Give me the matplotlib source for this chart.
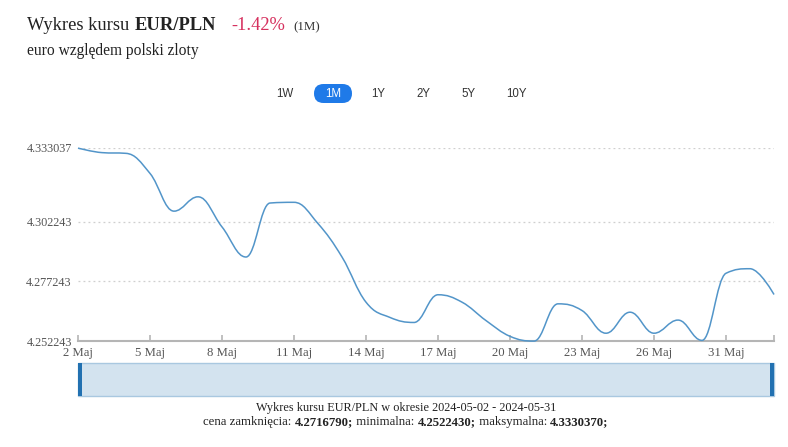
import matplotlib
matplotlib.use("Agg")
import matplotlib.pyplot as plt
from matplotlib.path import Path
from matplotlib.patches import PathPatch, Rectangle, FancyBboxPatch
from matplotlib.transforms import IdentityTransform

# ---------------- data ----------------
x_labels = ["2 Maj", "5 Maj", "8 Maj", "11 Maj", "14 Maj", "17 Maj",
            "20 Maj", "23 Maj", "26 Maj", "31 Maj"]
rates = [4.3330, 4.3311, 4.3308, 4.3224, 4.3066, 4.3126, 4.3000, 4.2874,
         4.3100, 4.3103, 4.3014, 4.2874, 4.2685, 4.2621, 4.2600, 4.2716,
         4.2685, 4.2608, 4.2542, 4.2522, 4.2678, 4.2650, 4.2555, 4.2643,
         4.2555, 4.2610, 4.2525, 4.2806, 4.2825, 4.2717]
y_ticks = [4.252243, 4.277243, 4.302243, 4.333037]
y_tick_labels = ["4.252243", "4.277243", "4.302243", "4.333037"]
buttons = ["1W", "1M", "1Y", "2Y", "5Y", "10Y"]
footer_line1 = "Wykres kursu EUR/PLN w okresie 2024-05-02 - 2024-05-31"
footer_parts = [("cena zamknięcia: ", "normal"), ("4.2716790;", "bold"),
                (" minimalna: ", "normal"), ("4.2522430;", "bold"),
                (" maksymalna: ", "normal"), ("4.3330370;", "bold")]

W, H = 788, 447
fig = plt.figure(figsize=(W / 100, H / 100), dpi=100)
renderer = fig.canvas.get_renderer()
SERIF = "Liberation Serif"
SANS = "Liberation Sans"


def fx(px):
    return px / W


def fy(py):
    return 1 - py / H


def text_width_px(t):
    return t.get_window_extent(renderer=renderer).width


# ---------------- main axes ----------------
ax_l, ax_r, ax_t, ax_b = 78, 774, 148, 341
ax = fig.add_axes([fx(ax_l), fy(ax_b), (ax_r - ax_l) / W, (ax_b - ax_t) / H])
n = len(rates)
xs = list(range(n))
ax.set_xlim(0, n - 1)
ax.set_ylim(y_ticks[0], y_ticks[-1])


# Highcharts-style spline path built from data points
def spline_path(x, y, smoothing=1.5):
    denom = smoothing + 1
    m = len(x)
    lc = [None] * m
    rc = [None] * m
    for i in range(1, m - 1):
        px, py = x[i], y[i]
        lx, ly = x[i - 1], y[i - 1]
        nx, ny = x[i + 1], y[i + 1]
        lcx = (smoothing * px + lx) / denom
        lcy = (smoothing * py + ly) / denom
        rcx = (smoothing * px + nx) / denom
        rcy = (smoothing * py + ny) / denom
        if rcx != lcx:
            corr = ((rcy - lcy) * (rcx - px)) / (rcx - lcx) + py - rcy
            lcy += corr
            rcy += corr
        if lcy > ly and lcy > py:
            lcy = max(ly, py)
            rcy = 2 * py - lcy
        elif lcy < ly and lcy < py:
            lcy = min(ly, py)
            rcy = 2 * py - lcy
        if rcy > ny and rcy > py:
            rcy = max(ny, py)
            lcy = 2 * py - rcy
        elif rcy < ny and rcy < py:
            rcy = min(ny, py)
            lcy = 2 * py - rcy
        lc[i] = (lcx, lcy)
        rc[i] = (rcx, rcy)
    verts = [(x[0], y[0])]
    codes = [Path.MOVETO]
    for i in range(1, m):
        c1 = rc[i - 1] if rc[i - 1] is not None else (x[i - 1], y[i - 1])
        c2 = lc[i] if lc[i] is not None else (x[i], y[i])
        verts += [c1, c2, (x[i], y[i])]
        codes += [Path.CURVE4] * 3
    return Path(verts, codes)


line_color = "#5295c9"
ax.add_patch(PathPatch(spline_path(xs, rates), facecolor="none",
                       edgecolor=line_color, lw=1.1, clip_on=False, zorder=3))

# grid
for yv in y_ticks[1:]:
    ax.axhline(yv, color="#cfcfcf", lw=0.9, ls=(0, (1.5, 2.5)), zorder=1)

for s in ["top", "right", "left"]:
    ax.spines[s].set_visible(False)
ax.spines["bottom"].set_color("#b5b5b5")
ax.spines["bottom"].set_linewidth(1.5)

tick_pos = list(range(0, 28, 3)) + [n - 1]
ax.set_xticks(tick_pos)
ax.set_xticklabels(x_labels + [""], fontfamily=SERIF, fontsize=9.2, color="#555555")
ax.tick_params(axis="x", direction="in", length=4, width=1.2, color="#b5b5b5", pad=4)
ax.set_yticks(y_ticks)
ax.set_yticklabels(y_tick_labels, fontfamily=SERIF, fontsize=8.8, color="#555555")
ax.tick_params(axis="y", length=0, pad=4.5)

# ---------------- navigator ----------------
nav_t, nav_b = 363, 396
fig.patches.append(Rectangle((fx(ax_l), fy(nav_b)), (ax_r - ax_l) / W, (nav_b - nav_t) / H,
                             transform=fig.transFigure, facecolor="#d3e3ef",
                             edgecolor="#a9c8e0", lw=1.0))
for hx in (ax_l, ax_r - 4):
    fig.patches.append(Rectangle((fx(hx), fy(nav_b)), 4 / W, (nav_b - nav_t) / H,
                                 transform=fig.transFigure, facecolor="#2271b1",
                                 edgecolor="none"))

# ---------------- titles ----------------
TS = 13.3
t1 = fig.text(fx(27), fy(30), "Wykres kursu", fontfamily=SERIF, fontsize=TS,
              color="#222222", va="baseline")
fig.text(fx(27 + text_width_px(t1) + 5), fy(30), "EUR/PLN", fontfamily=SERIF,
         fontsize=TS, fontweight="bold", color="#222222", va="baseline")
fig.text(fx(231), fy(30), "-1.42%", fontfamily=SERIF, fontsize=TS,
         color="#d6305e", va="baseline")
fig.text(fx(293), fy(30), "(1M)", fontfamily=SERIF, fontsize=9.3,
         color="#333333", va="baseline")
fig.text(fx(27), fy(55), "euro względem polski zloty", fontfamily=SERIF,
         fontsize=11.2, color="#222222", va="baseline")

# ---------------- range buttons ----------------
btn_x = [285, 333, 378, 423, 469, 516]
for lab, bx in zip(buttons, btn_x):
    if lab == "1M":
        fig.patches.append(FancyBboxPatch((bx - 19, H - 103), 38, 19,
                                          boxstyle="round,pad=0,rounding_size=9.5",
                                          transform=IdentityTransform(),
                                          facecolor="#1f7ae8", edgecolor="none"))
        fig.text(fx(bx), fy(94), lab, fontfamily=SANS, fontsize=8.3,
                 color="white", ha="center", va="center")
    else:
        fig.text(fx(bx), fy(94), lab, fontfamily=SANS, fontsize=8.3,
                 color="#333333", ha="center", va="center")

# ---------------- footer ----------------
fcx = 406
fig.text(fx(fcx), fy(408), footer_line1, fontfamily=SERIF, fontsize=8.8,
         color="#222222", ha="center", va="center")
pieces = []
total = 0
for txt, wt in footer_parts:
    t = fig.text(0, 0, txt, fontfamily=SERIF, fontsize=9.2, fontweight=wt,
                 color="#222222", va="center")
    w = text_width_px(t)
    pieces.append((t, w))
    total += w
cur = fcx - total / 2
for t, w in pieces:
    t.set_position((fx(cur), fy(422)))
    cur += w

fig.savefig("out.png", dpi=100)
